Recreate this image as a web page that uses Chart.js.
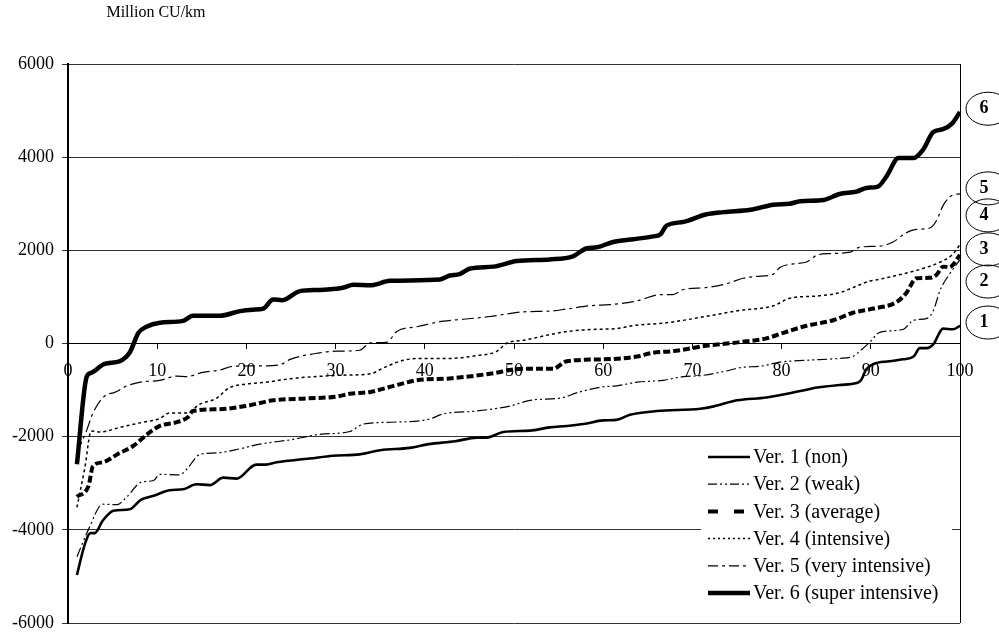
<!DOCTYPE html>
<html>
<head>
<meta charset="utf-8">
<script src="https://cdn.jsdelivr.net/npm/chart.js@4/dist/chart.umd.min.js"></script>
<style>
  html, body { margin: 0; padding: 0; background: #fff; }
  #wrap { width: 999px; height: 634px; }
</style>
</head>
<body>
<div id="wrap"><canvas id="c" width="999" height="634"></canvas></div>
<script>
// ---- data ([x, value] pairs) ----
const ver1 = [[1,-4970],[1.9,-4300],[2.5,-4070],[3,-4070],[3.9,-3800],[5.1,-3590],[6.9,-3560],[8.2,-3350],[9.6,-3270],[11.4,-3150],[12.9,-3130],[14.4,-3020],[15.9,-3040],[17.4,-2880],[18.9,-2900],[21.1,-2600],[22.2,-2600],[23.4,-2550],[27.1,-2470],[29.7,-2410],[32.7,-2380],[35,-2290],[38.3,-2240],[40.4,-2160],[43.4,-2100],[45.8,-2020],[46.9,-2020],[48.8,-1900],[51.8,-1870],[54,-1800],[55.9,-1770],[57.8,-1730],[60,-1650],[61.5,-1640],[63,-1530],[66,-1450],[70.9,-1400],[72.4,-1350],[75,-1220],[78.3,-1160],[82.1,-1020],[84,-945],[86.5,-890],[88.4,-850],[88.9,-790],[89.5,-555],[90.3,-440],[92.1,-380],[93.6,-340],[94.8,-280],[95.5,-100],[96.3,-100],[97,-20],[98.1,320],[99.2,305],[100,380]];
const ver2 = [[1,-4580],[2.3,-3990],[3.9,-3450],[5.5,-3460],[6.6,-3290],[8.2,-2980],[9.6,-2940],[10.3,-2810],[12.5,-2820],[13.3,-2700],[14.8,-2380],[16.6,-2350],[19.3,-2260],[21.5,-2160],[25.2,-2060],[28.2,-1950],[31.6,-1890],[33.1,-1730],[36.1,-1690],[40.4,-1630],[42.1,-1510],[45.8,-1450],[49.6,-1340],[51.8,-1220],[55.5,-1160],[57,-1060],[60,-930],[61.5,-910],[63.8,-830],[66.7,-790],[69,-710],[70.9,-690],[73.8,-590],[75.3,-520],[77.9,-480],[79.8,-400],[82.8,-360],[86.5,-320],[88,-280],[88.8,-160],[89.9,30],[91,240],[93.6,300],[94.8,500],[96.3,540],[97,700],[97.8,1160],[98.8,1480],[100,1800]];
const ver3 = [[1,-3290],[2.3,-3060],[2.8,-2630],[3.9,-2550],[5.6,-2370],[7.3,-2200],[8.8,-1960],[10.3,-1770],[12.2,-1690],[13.5,-1570],[14,-1450],[17,-1410],[20,-1340],[23,-1220],[26.7,-1180],[30.1,-1140],[31.6,-1080],[33.9,-1040],[36.5,-910],[39.1,-790],[42.8,-750],[47.3,-650],[51.1,-540],[54.4,-540],[55.9,-380],[60,-340],[63.8,-280],[65.5,-200],[67.8,-165],[71.5,-50],[75.3,30],[78.3,110],[80.2,230],[82.8,380],[85.8,500],[88,660],[90.3,750],[92.9,890],[94,1090],[95.1,1400],[96.6,1410],[97.4,1480],[98.1,1650],[98.8,1640],[100,1900]];
const ver4 = [[1,-3520],[1.9,-2650],[2.6,-1880],[3.6,-1900],[5.8,-1800],[8.4,-1690],[10.3,-1610],[11.4,-1490],[13.3,-1490],[14.8,-1300],[16.6,-1180],[18.1,-950],[20,-870],[22.2,-830],[25.2,-750],[28.6,-700],[30.8,-680],[33.9,-650],[35.4,-520],[37.6,-360],[39.8,-320],[42.8,-320],[45.8,-260],[48.1,-165],[49.2,10],[51.1,70],[54,190],[56.3,265],[59.3,305],[61.5,320],[63.4,385],[67.1,445],[71.5,580],[75.3,710],[79.1,810],[80.9,970],[84,1020],[86.5,1090],[88,1200],[89.9,1340],[91,1380],[93.3,1480],[95.5,1590],[97.8,1750],[99.1,1900],[100,2120]];
const ver5 = [[1,-2350],[2.1,-1860],[2.8,-1490],[4.3,-1100],[5.1,-1060],[6.6,-910],[8.1,-830],[10.3,-790],[12.2,-700],[13.3,-710],[15.1,-620],[17,-570],[18.5,-490],[21.5,-480],[23.7,-460],[24.9,-340],[28.2,-200],[30.1,-165],[32.7,-145],[33.9,15],[35.7,25],[36.9,265],[39.1,360],[42.1,480],[44.3,520],[47.3,580],[51.1,680],[54,695],[55.9,740],[58.5,810],[60.8,835],[63.4,900],[64.1,930],[66.4,1050],[67.8,1050],[69,1160],[71.5,1200],[73.8,1280],[75.7,1400],[77.2,1440],[79.1,1490],[79.8,1630],[81.3,1710],[82.8,1750],[84,1900],[85.4,1930],[87.7,1960],[88.8,2070],[91,2090],[92.5,2180],[94,2380],[95.1,2450],[96.6,2480],[97.4,2650],[98.1,2960],[99.1,3180],[100,3210]];
const ver6 = [[1,-2590],[2.1,-710],[2.6,-630],[4.1,-440],[5.8,-380],[6.9,-200],[7.9,230],[8.8,360],[10.3,445],[12.9,485],[14,595],[17,595],[19.3,695],[20.7,725],[21.9,750],[23,945],[24,930],[26,1125],[28.2,1150],[30.8,1195],[32,1260],[33.9,1250],[36.1,1345],[41.7,1375],[42.8,1460],[43.9,1490],[45.1,1610],[47.7,1650],[50.3,1770],[54,1805],[56.6,1870],[58.1,2040],[59.3,2065],[61.1,2180],[63.4,2240],[65.6,2300],[66.4,2340],[67.1,2530],[69,2610],[71.5,2770],[73.5,2820],[76.5,2870],[79.1,2980],[80.9,3000],[82.1,3055],[84.7,3080],[86.5,3210],[88.4,3260],[89.5,3340],[90.8,3370],[91.8,3600],[93.1,3980],[94.8,3980],[95.9,4170],[97,4540],[98.1,4600],[99.1,4720],[100,4970]];

const seriesNames = ['Ver. 1 (non)','Ver. 2 (weak)','Ver. 3 (average)','Ver. 4 (intensive)','Ver. 5 (very intensive)','Ver. 6 (super intensive)'];
const markerLabels = ['1','2','3','4','5','6'];
const markerLevels = [450, 1330, 2020, 2750, 3330, 5040];
const unitTitle = 'Million CU/km';

// ---- styles ----
const styles = [
  {w: 2.6, dash: [],            legendDash: []},
  {w: 1.2, dash: [10,3,2,3,2,3], legendDash: [9,3,2,3,2,3]},
  {w: 4,   dash: [7,3],         legendDash: [10,16]},
  {w: 1.5, dash: [3,3],         legendDash: [2,3]},
  {w: 1.2, dash: [12,4,3,4],    legendDash: [10,4,3,4]},
  {w: 4.5, dash: [],            legendDash: []}
];
const serif = "'Liberation Serif', 'Times New Roman', serif";
const seriesData = [ver1, ver2, ver3, ver4, ver5, ver6];

const datasets = seriesData.map((arr, i) => ({
  label: seriesNames[i],
  data: arr.map(p => ({x: p[0], y: p[1]})),
  borderColor: '#000',
  backgroundColor: '#000',
  borderWidth: styles[i].w,
  borderDash: styles[i].dash,
  pointRadius: 0,
  fill: false,
  cubicInterpolationMode: 'monotone',
  borderCapStyle: 'butt'
}));

const decor = {
  id: 'decor',
  afterDatasetsDraw(chart) {
    const ctx = chart.ctx;
    const ca = chart.chartArea;
    const ys = chart.scales.y;
    ctx.save();
    // right frame line
    ctx.strokeStyle = '#000';
    ctx.lineWidth = 1;
    ctx.beginPath();
    ctx.moveTo(ca.right + 0.5, ca.top);
    ctx.lineTo(ca.right + 0.5, ca.bottom);
    ctx.stroke();

    // legend box
    const lx = 701, ly = 441, lw = 251, lh = 178;
    ctx.fillStyle = '#fff';
    ctx.fillRect(lx, ly, lw, lh);
    ctx.font = '20px ' + serif;
    ctx.textBaseline = 'middle';
    ctx.textAlign = 'left';
    chart.data.datasets.forEach((ds, i) => {
      const yy = 457 + i * 27.2;
      ctx.strokeStyle = '#000';
      ctx.lineWidth = ds.borderWidth;
      ctx.setLineDash(styles[i].legendDash);
      ctx.beginPath();
      ctx.moveTo(708, yy);
      ctx.lineTo(750, yy);
      ctx.stroke();
      ctx.setLineDash([]);
      ctx.fillStyle = '#000';
      ctx.fillText(ds.label, 753, yy + 1);
    });

    // ellipse markers on the right
    ctx.lineWidth = 1;
    ctx.font = 'bold 18px ' + serif;
    ctx.textAlign = 'center';
    markerLabels.forEach((t, i) => {
      const cy = ys.getPixelForValue(markerLevels[i]);
      ctx.beginPath();
      ctx.ellipse(988, cy, 22, 16.5, 0, 0, Math.PI * 2);
      ctx.strokeStyle = '#000';
      ctx.stroke();
      ctx.fillStyle = '#000';
      ctx.fillText(t, 984, cy);
    });

    // unit title
    ctx.font = '16px ' + serif;
    ctx.textAlign = 'center';
    ctx.fillText(unitTitle, 156, 13);
    ctx.restore();
  }
};

new Chart(document.getElementById('c'), {
  type: 'line',
  data: { datasets },
  options: {
    responsive: false,
    animation: false,
    devicePixelRatio: 1,
    layout: { padding: { top: 64, right: 39, bottom: 11, left: 0 } },
    plugins: { legend: { display: false }, tooltip: { enabled: false }, title: { display: false } },
    scales: {
      x: {
        type: 'linear',
        min: 0, max: 100,
        position: { y: 0 },
        ticks: {
          stepSize: 10, autoSkip: false, maxRotation: 0, color: '#000',
          font: { family: serif, size: 18 }, padding: 12,
          callback: v => String(v)
        },
        grid: { drawOnChartArea: false, drawTicks: true, tickLength: 5, color: '#000' },
        border: { display: true, color: '#000', width: 1 },
        afterFit: s => { s.paddingTop = 0; s.paddingBottom = 0; }
      },
      y: {
        type: 'linear',
        min: -6000, max: 6000,
        ticks: {
          stepSize: 2000, color: '#000',
          font: { family: serif, size: 18 }, padding: 8,
          callback: v => String(v)
        },
        grid: { color: '#333', lineWidth: 1, tickLength: 6, drawTicks: true },
        border: { display: true, color: '#000', width: 2 },
        afterFit: s => { s.width = 68; s.paddingTop = 0; s.paddingBottom = 0; }
      }
    }
  },
  plugins: [decor]
});
</script>
</body>
</html>
